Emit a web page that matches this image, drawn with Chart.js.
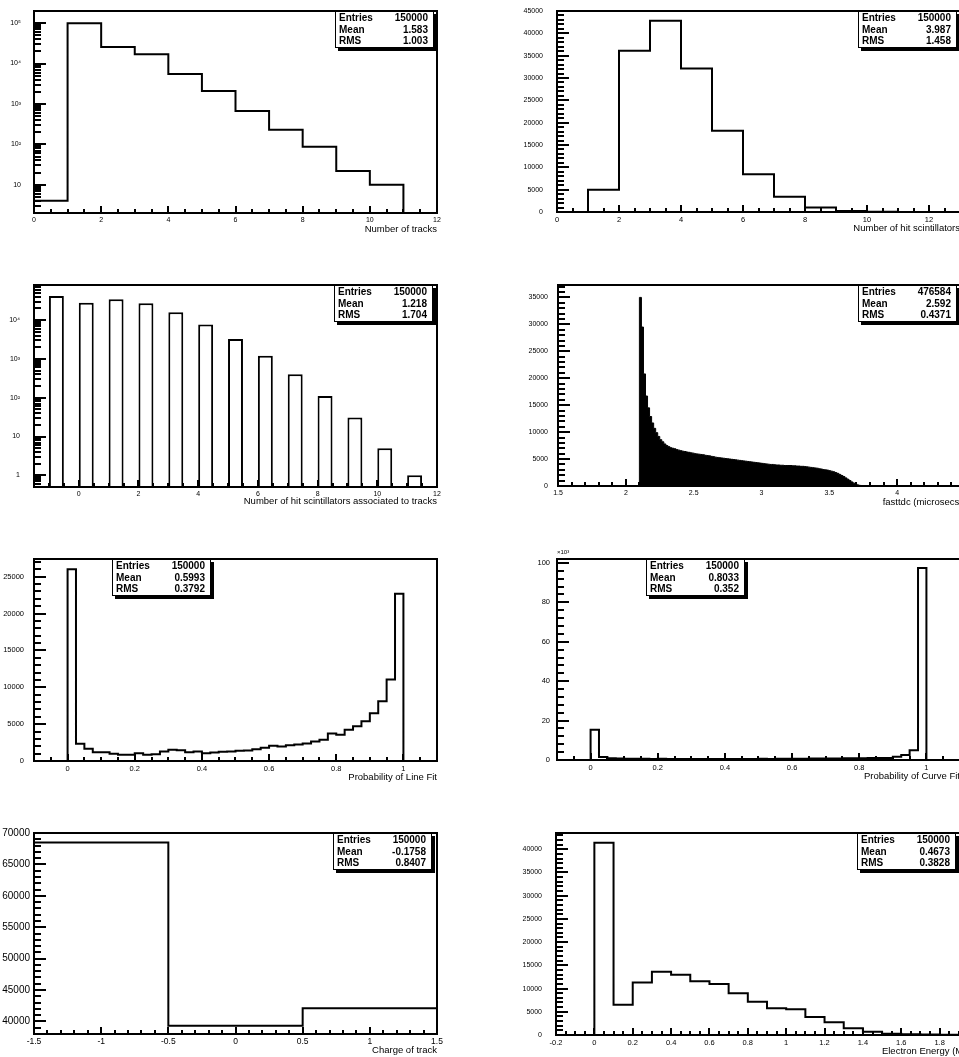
<!DOCTYPE html>
<html>
<head>
<meta charset="utf-8">
<title>Tracking histograms</title>
<script src="https://cdn.jsdelivr.net/npm/chart.js@4.4.1/dist/chart.umd.min.js"></script>
<style>
  html, body { margin: 0; padding: 0; background: #fff; overflow: hidden; width: 959px; height: 1057px; position: relative; }
  canvas { position: absolute; }
  .stats { position: absolute; width: 99px; height: 37px; box-sizing: border-box; background: #fff; border: 1px solid #000; box-shadow: 3px 3px 0 #000; padding: 0 5px 0 3px; font: bold 10px "Liberation Sans", Arial, sans-serif; color: #000; }
  .stats div { display: flex; justify-content: space-between; height: 11.7px; line-height: 11.7px; }
  .unit { position: absolute; font: 6px "Liberation Sans", Arial, sans-serif; color: #000; }
</style>
</head>
<body>

<canvas id="tracks" width="480" height="260" style="left:0;top:0"></canvas>
<canvas id="hits" width="520" height="260" style="left:480px;top:0"></canvas>
<canvas id="assoc" width="480" height="260" style="left:0;top:270px"></canvas>
<canvas id="tdc" width="520" height="260" style="left:480px;top:270px"></canvas>
<canvas id="lineFit" width="480" height="260" style="left:0;top:540px"></canvas>
<canvas id="curveFit" width="520" height="260" style="left:480px;top:540px"></canvas>
<canvas id="charge" width="480" height="260" style="left:0;top:810px"></canvas>
<canvas id="energy" width="520" height="260" style="left:480px;top:810px"></canvas>
<span class="unit" style="left:557px;top:549px">×10³</span>

<script>
// Number of tracks (unit bins starting at 0)
const trackCounts = [4, 100000, 25700, 17000, 5500, 2100, 670, 230, 87, 22, 10, 0];
const trackXTicks = [0, 2, 4, 6, 8, 10, 12];
const trackYTicks = [10, 100, 1000, 10000, 100000];
const trackStats = ["150000", "1.583", "1.003"];

// Number of hit scintillators (unit bins starting at 0)
const hitCounts = [0, 5000, 36100, 42800, 32100, 18200, 8450, 3400, 1000, 250, 60, 20, 5];
const hitXTicks = [0, 2, 4, 6, 8, 10, 12];
const hitYTicks = [0, 5000, 10000, 15000, 20000, 25000, 30000, 35000, 40000, 45000];
const hitStats = ["150000", "3.987", "1.458"];

// Hit scintillators associated to tracks, drawn as bars
const assocBins = [-1, 0, 1, 2, 3, 4, 5, 6, 7, 8, 9, 10, 11];
const assocCounts = [41700, 28000, 34100, 26900, 15800, 7730, 3240, 1200, 404, 110, 31, 5, 1];
const assocXTicks = [0, 2, 4, 6, 8, 10, 12];
const assocYTicks = [1, 10, 100, 1000, 10000];
const assocStats = ["150000", "1.218", "1.704"];

// fasttdc in microseconds, 0.015 wide bins starting at 2.1
const tdcCounts = [
  35000, 29500, 20800, 16700, 14500, 12900, 11700, 10700, 9900, 9200,
  8600, 8200, 7800, 7500, 7300, 7100, 7000, 6900, 6750, 6650,
  6550, 6450, 6400, 6300, 6250, 6150, 6100, 6000, 5950, 5900,
  5850, 5800, 5700, 5650, 5600, 5500, 5450, 5350, 5300, 5250,
  5200, 5150, 5100, 5050, 5000, 4950, 4900, 4850, 4800, 4750,
  4700, 4650, 4600, 4550, 4500, 4450, 4400, 4350, 4300, 4250,
  4200, 4150, 4100, 4050, 4000, 4000, 3950, 3900, 3900, 3850,
  3850, 3800, 3800, 3800, 3800, 3750, 3750, 3700, 3700, 3650,
  3650, 3600, 3550, 3500, 3450, 3400, 3350, 3300, 3200, 3150,
  3050, 3000, 2950, 2850, 2750, 2650, 2500, 2350, 2150, 1950,
  1750, 1500, 1250, 1000, 750, 520, 340, 200, 110, 60,
  30, 15, 8
];
const tdcXTicks = [1.5, 2, 2.5, 3, 3.5, 4, 4.5];
const tdcYTicks = [0, 5000, 10000, 15000, 20000, 25000, 30000, 35000];
const tdcStats = ["476584", "2.592", "0.4371"];

// Probability of line fit, 40 bins on [0, 1]
const lineFitCounts = [
  26000, 2340, 1660, 1200, 1200, 980, 840, 840, 1060, 840,
  910, 1290, 1520, 1450, 1200, 1290, 1060, 1150, 1240, 1290,
  1380, 1430, 1600, 1790, 2060, 1970, 2150, 2240, 2380, 2650,
  2880, 3740, 3560, 4240, 4700, 5380, 6470, 8100, 11040, 22700
];
const fitXTicks = [0, 0.2, 0.4, 0.6, 0.8, 1];
const lineFitYTicks = [0, 5000, 10000, 15000, 20000, 25000];
const lineFitStats = ["150000", "0.5993", "0.3792"];

// Probability of curve fit, 40 bins on [0, 1]
const curveFitCounts = [
  15300, 1500, 900, 700, 650, 600, 600, 550, 600, 550,
  550, 500, 550, 500, 500, 550, 500, 500, 550, 550,
  600, 550, 600, 600, 650, 650, 700, 700, 750, 800,
  850, 900, 950, 1000, 1000, 1000, 1600, 2500, 4900, 97400
];
const curveFitYTicks = [0, 20000, 40000, 60000, 80000, 100000];
const curveFitStats = ["150000", "0.8033", "0.352"];

// Charge of track, unit bins from -1.5
const chargeCounts = [68500, 39300, 42100];
const chargeXTicks = [-1.5, -1, -0.5, 0, 0.5, 1, 1.5];
const chargeYTicks = [40000, 45000, 50000, 55000, 60000, 65000, 70000];
const chargeStats = ["150000", "-0.1758", "0.8407"];

// Electron energy in MeV, 0.1 wide bins from 0
const energyCounts = [41400, 6500, 11300, 13600, 13000, 11600, 11000, 9000, 7150, 5780,
  5560, 3900, 2740, 1440, 720, 290, 150, 100, 80, 50];
const energyXTicks = [-0.2, 0, 0.2, 0.4, 0.6, 0.8, 1, 1.2, 1.4, 1.6, 1.8, 2];
const energyYTicks = [0, 5000, 10000, 15000, 20000, 25000, 30000, 35000, 40000];
const energyStats = ["150000", "0.4673", "0.3828"];

const FONT = "Liberation Sans";
const SUPERS = { 2: "²", 3: "³", 4: "⁴", 5: "⁵" };

function logLabel(v) {
    const e = Math.round(Math.log10(v));
    if (e === 0) return "1";
    if (e === 1) return "10";
    return "10" + SUPERS[e];
}

// outline of a histogram as a stepped polyline, closed down to the base
function stepPoints(lo, width, counts, base) {
    const pts = [{ x: lo, y: base }];
    counts.forEach((c, i) => pts.push({ x: lo + i * width, y: Math.max(c, base) }));
    pts.push({ x: lo + counts.length * width, y: base });
    return pts;
}

function linearTicks(min, max, major, minor) {
    const out = [];
    const n0 = Math.ceil(min / minor - 1e-6), n1 = Math.floor(max / minor + 1e-6);
    for (let n = n0; n <= n1; n++) {
        const v = n * minor;
        const r = v / major;
        out.push({ v, major: Math.abs(r - Math.round(r)) < 1e-6 });
    }
    return out;
}

function logTicks(min, max) {
    const out = [];
    for (let e = Math.floor(Math.log10(min)); e <= Math.ceil(Math.log10(max)); e++) {
        for (let m = 1; m <= 9; m++) {
            const v = m * Math.pow(10, e);
            if (v >= min && v <= max) out.push({ v, major: m === 1 });
        }
    }
    return out;
}

// frame plus inward pointing tick marks
const rootAxes = {
    id: "rootAxes",
    afterDatasetsDraw(chart, args, o) {
        const { ctx, chartArea: a } = chart;
        const xs = chart.scales.x, ys = chart.scales.y;
        const yt = o.yLog ? logTicks(ys.min, ys.max) : linearTicks(ys.min, ys.max, o.yMajor, o.yMinor);
        const xt = linearTicks(xs.min, xs.max, o.xMajor, o.xMinor);

        ctx.save();
        ctx.strokeStyle = "#000";
        ctx.lineWidth = 2;
        ctx.beginPath();
        yt.forEach(t => {
            const py = Math.round(ys.getPixelForValue(t.v));
            ctx.moveTo(a.left, py);
            ctx.lineTo(a.left + (t.major ? 12 : 7), py);
        });
        xt.forEach(t => {
            const px = Math.round(xs.getPixelForValue(t.v));
            ctx.moveTo(px, a.bottom);
            ctx.lineTo(px, a.bottom - (t.major ? 7 : 4));
        });
        ctx.stroke();
        ctx.strokeRect(a.left, a.top, a.right - a.left, a.bottom - a.top);
        ctx.restore();
    }
};

function drawHist(id, s) {
    const ctx = document.getElementById(id).getContext("2d");
    return new Chart(ctx, {
        type: s.type || "line",
        data: { datasets: [s.dataset] },
        options: {
            responsive: false,
            animation: false,
            events: [],
            layout: { padding: s.padding },
            plugins: {
                legend: { display: false },
                tooltip: { enabled: false },
                rootAxes: s.axes
            },
            scales: {
                x: {
                    type: "linear",
                    offset: false,
                    min: s.xMin,
                    max: s.xMax,
                    grid: { display: false, drawTicks: false, offset: false },
                    border: { display: false },
                    ticks: {
                        autoSkip: false, maxRotation: 0, minRotation: 0,
                        padding: 3, color: "#000",
                        font: { family: FONT, size: s.xFont || 7.5 },
                        callback: v => String(v)
                    },
                    afterBuildTicks: sc => { sc.ticks = s.xTicks.map(v => ({ value: v })); },
                    afterFit: sc => { sc.height = 32; sc.paddingLeft = 0; sc.paddingRight = 0; },
                    title: {
                        display: true, text: s.xTitle, align: "end", color: "#000",
                        font: { family: FONT, size: 9.5, lineHeight: 1 },
                        padding: { top: 0, bottom: s.titlePad || 11 }
                    }
                },
                y: {
                    type: s.yLog ? "logarithmic" : "linear",
                    min: s.yMin,
                    max: s.yMax,
                    grid: { display: false, drawTicks: false },
                    border: { display: false },
                    ticks: {
                        autoSkip: false, padding: s.yPad, color: "#000",
                        font: { family: FONT, size: s.yFont || 7 },
                        callback: s.yLabel || (v => String(v))
                    },
                    afterBuildTicks: sc => { sc.ticks = s.yTicks.map(v => ({ value: v })); },
                    afterFit: sc => { sc.width = s.yWidth; sc.paddingTop = 0; sc.paddingBottom = 0; }
                }
            }
        },
        plugins: [rootAxes]
    });
}

function addStats(left, top, values) {
    const box = document.createElement("div");
    box.className = "stats";
    box.style.left = left + "px";
    box.style.top = top + "px";
    ["Entries", "Mean", "RMS"].forEach((name, i) => {
        const row = document.createElement("div");
        row.innerHTML = `<span>${name}</span><span>${values[i]}</span>`;
        box.appendChild(row);
    });
    document.body.appendChild(box);
}

function outline(points) {
    return { data: points, stepped: "before", borderColor: "#000", borderWidth: 2, pointRadius: 0, fill: false };
}

document.addEventListener("DOMContentLoaded", function () {

    drawHist("tracks", {
        dataset: outline(stepPoints(0, 1, trackCounts, 2)),
        xMin: 0, xMax: 12, xTicks: trackXTicks, xTitle: "Number of tracks", xFont: 7,
        yLog: true, yMin: 2, yMax: 200000, yTicks: trackYTicks, yLabel: logLabel, yPad: 13, yWidth: 34,
        padding: { left: 0, top: 11, right: 43, bottom: 15 },
        axes: { yLog: true, xMajor: 2, xMinor: 0.5 }
    });

    drawHist("hits", {
        dataset: outline(stepPoints(0, 1, hitCounts, 0)),
        xMin: 0, xMax: 13, xTicks: hitXTicks, xTitle: "Number of hit scintillators",
        yMin: 0, yMax: 45000, yTicks: hitYTicks, yPad: 14, yWidth: 77,
        padding: { left: 0, top: 11, right: 40, bottom: 16 },
        axes: { yMajor: 5000, yMinor: 1000, xMajor: 2, xMinor: 0.5 }
    });

    drawHist("assoc", {
        type: "bar",
        dataset: {
            data: assocBins.map((b, i) => ({ x: b + 0.25, y: assocCounts[i] })),
            backgroundColor: "#fff", borderColor: "#000", borderWidth: 2,
            barPercentage: 0.5, categoryPercentage: 1
        },
        xMin: -1.5, xMax: 12, xTicks: assocXTicks, xTitle: "Number of hit scintillators associated to tracks", xFont: 7,
        yLog: true, yMin: 0.5, yMax: 80000, yTicks: assocYTicks, yLabel: logLabel, yPad: 14, yWidth: 34,
        titlePad: 13,
        padding: { left: 0, top: 15, right: 43, bottom: 11 },
        axes: { yLog: true, xMajor: 2, xMinor: 0.5 }
    });

    drawHist("tdc", {
        dataset: {
            data: stepPoints(2.1, 0.015, tdcCounts, 0), stepped: "before",
            borderColor: "#000", borderWidth: 1, pointRadius: 0,
            fill: "origin", backgroundColor: "#000"
        },
        xMin: 1.5, xMax: 4.5, xTicks: tdcXTicks, xTitle: "fasttdc (microsecs )", xFont: 7,
        yMin: 0, yMax: 37300, yTicks: tdcYTicks, yPad: 10, yWidth: 78,
        padding: { left: 0, top: 15, right: 35, bottom: 12 },
        axes: { yMajor: 5000, yMinor: 1000, xMajor: 0.5, xMinor: 0.1 }
    });

    drawHist("lineFit", {
        dataset: outline(stepPoints(0, 0.025, lineFitCounts, 0)),
        xMin: -0.1, xMax: 1.1, xTicks: fitXTicks, xTitle: "Probability of Line Fit",
        yMin: 0, yMax: 27400, yTicks: lineFitYTicks, yPad: 10, yWidth: 34, yFont: 7.5,
        padding: { left: 0, top: 19, right: 43, bottom: 7 },
        axes: { yMajor: 5000, yMinor: 1000, xMajor: 0.2, xMinor: 0.05 }
    });

    drawHist("curveFit", {
        dataset: outline(stepPoints(0, 0.025, curveFitCounts, 0)),
        xMin: -0.1, xMax: 1.1, xTicks: fitXTicks, xTitle: "Probability of Curve Fit",
        yMin: 0, yMax: 102000, yTicks: curveFitYTicks, yLabel: v => String(v / 1000), yPad: 7, yWidth: 77, yFont: 7.5,
        padding: { left: 0, top: 19, right: 40, bottom: 8 },
        axes: { yMajor: 20000, yMinor: 4000, xMajor: 0.2, xMinor: 0.05 }
    });

    drawHist("charge", {
        dataset: outline(stepPoints(-1.5, 1, chargeCounts, 38000)),
        xMin: -1.5, xMax: 1.5, xTicks: chargeXTicks, xTitle: "Charge of track", xFont: 8.5,
        yMin: 38000, yMax: 70000, yTicks: chargeYTicks, yPad: 4, yWidth: 34, yFont: 10,
        padding: { left: 0, top: 23, right: 43, bottom: 4 },
        axes: { yMajor: 5000, yMinor: 1000, xMajor: 0.5, xMinor: 0.1 }
    });

    drawHist("energy", {
        dataset: outline(stepPoints(0, 0.1, energyCounts, 0)),
        xMin: -0.2, xMax: 2, xTicks: energyXTicks, xTitle: "Electron Energy (MeV)",
        yMin: 0, yMax: 43500, yTicks: energyYTicks, yPad: 14, yWidth: 76,
        padding: { left: 0, top: 23, right: 22, bottom: 3 },
        axes: { yMajor: 5000, yMinor: 1000, xMajor: 0.2, xMinor: 0.05 }
    });

    addStats(335, 11, trackStats);
    addStats(858, 11, hitStats);
    addStats(334, 285, assocStats);
    addStats(858, 285, tdcStats);
    addStats(112, 559, lineFitStats);
    addStats(646, 559, curveFitStats);
    addStats(333, 833, chargeStats);
    addStats(857, 833, energyStats);
});
</script>
</body>
</html>
